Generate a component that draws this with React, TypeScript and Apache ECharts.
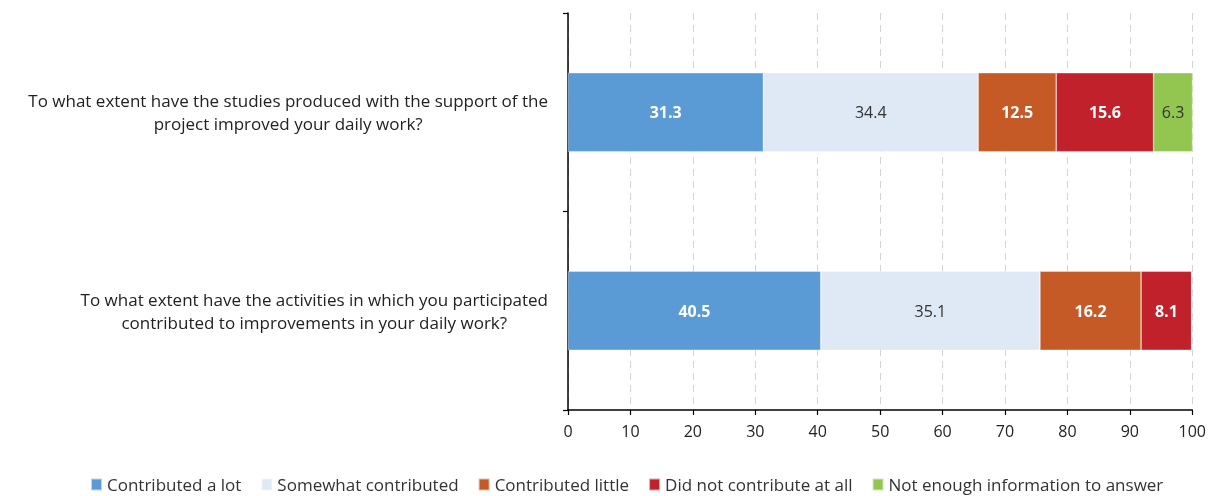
import React, { useEffect, useRef } from "react";
import * as echarts from "echarts";

const categories = [
  "To what extent have the studies produced with the support of the\nproject improved your daily work?",
  "To what extent have the activities in which you participated\ncontributed to improvements in your daily work?",
];
const seriesNames = [
  "Contributed a lot",
  "Somewhat contributed",
  "Contributed little",
  "Did not contribute at all",
  "Not enough information to answer",
];
const contributedALot = [31.3, 40.5];
const somewhatContributed = [34.4, 35.1];
const contributedLittle = [12.5, 16.2];
const didNotContribute = [15.6, 8.1];
const notEnoughInfo = [6.3, 0];
const xTicks = [0, 10, 20, 30, 40, 50, 60, 70, 80, 90, 100];

const colors = ["#5B9BD5", "#DEE9F5", "#C55A26", "#C0212A", "#92C650"];
const labelColors = ["#ffffff", "#333333", "#ffffff", "#ffffff", "#333333"];
const labelWeights = ["bold", "normal", "bold", "bold", "normal"];
const FONT = "'Open Sans', Lato, sans-serif";

export default function App() {
  const ref = useRef<HTMLDivElement>(null);
  useEffect(() => {
    if (!ref.current) return;
    const chart = echarts.init(ref.current, undefined, { renderer: "svg" });
    const allData = [contributedALot, somewhatContributed, contributedLittle, didNotContribute, notEnoughInfo];
    const series = allData.map((d, i) => ({
      name: seriesNames[i],
      type: "bar",
      stack: "total",
      barWidth: 79,
      data: d,
      itemStyle: { color: colors[i], borderColor: "rgba(255,255,255,0.6)", borderWidth: 0.6 },
      label: {
        show: true,
        position: "inside",
        color: labelColors[i],
        fontWeight: labelWeights[i],
        fontSize: 16,
        fontFamily: FONT,
        formatter: (p: any) => (p.value ? p.value.toFixed(1) : ""),
      },
    }));
    chart.setOption({
      animation: false,
      textStyle: { fontFamily: FONT },
      grid: { left: 568, right: 13, top: 13, bottom: 86 },
      legend: {
        data: seriesNames,
        left: 90,
        top: 476,
        padding: 0,
        itemWidth: 11,
        itemHeight: 12,
        itemGap: 19,
        icon: "rect",
        textStyle: { fontSize: 17, color: "#333", fontFamily: FONT },
      },
      xAxis: {
        type: "value",
        min: xTicks[0],
        max: xTicks[xTicks.length - 1],
        interval: xTicks[1] - xTicks[0],
        axisLine: { show: true, lineStyle: { color: "#000", width: 1.5 } },
        axisTick: { show: true, length: 5, lineStyle: { color: "#000", width: 1.2 } },
        axisLabel: { fontSize: 16, color: "#222", margin: 13, fontFamily: FONT },
        splitLine: { show: true, lineStyle: { color: "#d4d4d4", type: [7, 5], width: 1 } },
      },
      yAxis: {
        type: "category",
        inverse: true,
        data: categories,
        axisLine: { show: true, lineStyle: { color: "#000", width: 1.5 } },
        axisTick: { show: true, length: 5, lineStyle: { color: "#000", width: 1.2 } },
        axisLabel: { show: false },
      },
      series,
    });
    const graphics = categories.map((c, i) => {
      const y = chart.convertToPixel({ yAxisIndex: 0 } as any, i) as number;
      return {
        type: "text",
        right: 1209 - 548,
        y,
        style: {
          text: c,
          textAlign: "center",
          textVerticalAlign: "middle",
          fontSize: 17,
          lineHeight: 23,
          fontFamily: FONT,
          fill: "#222",
        },
      };
    });
    chart.setOption({ graphic: graphics });
    return () => chart.dispose();
  }, []);
  return (
    <div
      ref={ref}
      style={{ position: "fixed", left: 0, top: 0, width: 1209, height: 496 }}
    />
  );
}
